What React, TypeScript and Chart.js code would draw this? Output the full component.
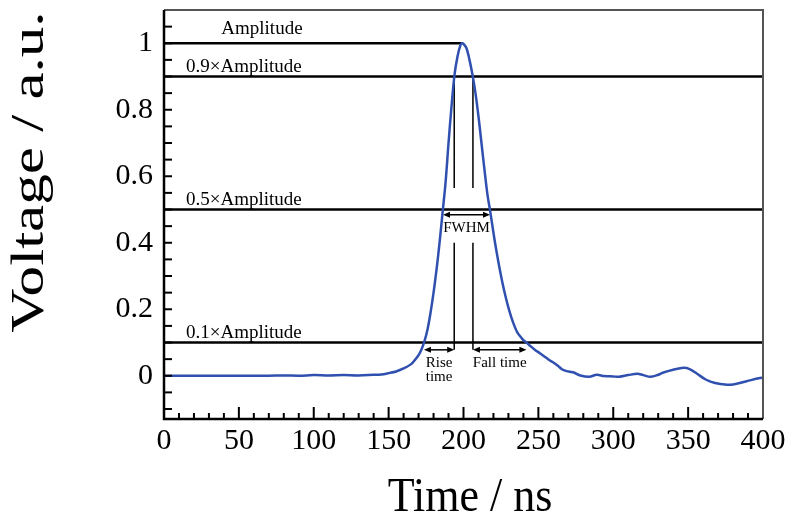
import React, { useEffect, useRef } from "react";
import { Chart, registerables } from "chart.js";

Chart.register(...registerables);

// ---- data ----
const TIME = [
  0, 10, 20, 30, 40, 50, 60, 70, 80, 90, 100, 110, 120, 130, 140, 145, 150, 155, 160, 165,
  168, 170, 172, 174, 176, 178, 180, 182, 184, 186, 188, 190, 192, 194, 196, 198, 199, 200,
  202, 204, 206, 208, 210, 212, 214, 216, 218, 220, 222, 224, 226, 228, 230, 232, 234, 236,
  238, 240, 242, 244, 248, 251, 255, 258, 260, 263, 266, 269, 271, 274, 278, 284, 289, 294,
  300, 304, 310, 316, 320, 325, 330, 333, 340, 347, 351, 356, 362, 368, 376, 380, 385, 392,
  398, 400,
];
const VOLTAGE = [
  0, 0, 0, 0, 0, 0, 0, 0, 0.001, 0, 0.002, 0.001, 0.002, 0.001, 0.003, 0.004, 0.008, 0.013,
  0.022, 0.035, 0.05, 0.062, 0.08, 0.105, 0.14, 0.19, 0.25, 0.32, 0.4, 0.49, 0.58, 0.7, 0.81,
  0.905, 0.96, 0.995, 1.0, 0.998, 0.985, 0.95, 0.905, 0.85, 0.78, 0.7, 0.62, 0.545, 0.49,
  0.43, 0.375, 0.325, 0.28, 0.24, 0.205, 0.175, 0.15, 0.13, 0.118, 0.107, 0.1, 0.092, 0.077,
  0.068, 0.055, 0.045, 0.04, 0.03, 0.019, 0.014, 0.012, 0.009, 0.001, -0.003, 0.003, -0.001,
  -0.002, -0.003, 0.002, 0.006, 0.002, -0.003, 0.003, 0.009, 0.018, 0.024, 0.02, 0.006,
  -0.012, -0.022, -0.027, -0.026, -0.021, -0.013, -0.007, -0.006,
];
const X_TICKS = [0, 50, 100, 150, 200, 250, 300, 350, 400];
const Y_TICKS = [0, 0.2, 0.4, 0.6, 0.8, 1];

// annotation levels and crossing times
const LEVELS = [1, 0.9, 0.5, 0.1];
const LEVEL_LABELS = ["Amplitude", "0.9×Amplitude", "0.5×Amplitude", "0.1×Amplitude"];
const T_PEAK = 199;
const T_RISE = [173.6, 186.3, 193.8]; // 10%, 50%, 90%
const T_FALL = [206.3, 217.7, 242.0]; // 90%, 50%, 10%
const FWHM_Y = 0.484;
const TIME_ARROW_Y = 0.078;
const VLINE_GAP = [0.4, 0.565];

const SERIF = "'Liberation Serif', 'Times New Roman', serif";

const annotations = {
  id: "annotations",
  beforeDatasetsDraw(chart: any) {
    const { ctx, chartArea } = chart;
    const xs = chart.scales.x;
    const ys = chart.scales.y;
    const X = (v: number) => xs.getPixelForValue(v);
    const Y = (v: number) => ys.getPixelForValue(v);
    ctx.save();
    ctx.strokeStyle = "#000";
    ctx.fillStyle = "#000";
    // horizontal level lines
    ctx.lineWidth = 2.5;
    LEVELS.forEach((lv) => {
      ctx.beginPath();
      ctx.moveTo(chartArea.left, Y(lv));
      ctx.lineTo(lv === 1 ? X(T_PEAK) : chartArea.right, Y(lv));
      ctx.stroke();
    });
    // vertical lines at 90% crossings
    ctx.lineWidth = 1.5;
    [T_RISE[2], T_FALL[0]].forEach((t) => {
      ctx.beginPath();
      ctx.moveTo(X(t), Y(0.9));
      ctx.lineTo(X(t), Y(VLINE_GAP[1]));
      ctx.moveTo(X(t), Y(VLINE_GAP[0]));
      ctx.lineTo(X(t), Y(TIME_ARROW_Y));
      ctx.stroke();
    });
    const arrow = (x1: number, x2: number, y: number) => {
      ctx.lineWidth = 1.5;
      ctx.beginPath();
      ctx.moveTo(x1 + 3, y);
      ctx.lineTo(x2 - 3, y);
      ctx.stroke();
      [
        [x1, 1],
        [x2, -1],
      ].forEach(([x, d]) => {
        ctx.beginPath();
        ctx.moveTo(x, y);
        ctx.lineTo(x + d * 7, y - 3);
        ctx.lineTo(x + d * 7, y + 3);
        ctx.closePath();
        ctx.fill();
      });
    };
    arrow(X(T_RISE[1]), X(T_FALL[1]), Y(FWHM_Y));
    arrow(X(T_RISE[0]), X(T_RISE[2]), Y(TIME_ARROW_Y));
    arrow(X(T_FALL[0]), X(T_FALL[2]), Y(TIME_ARROW_Y));

    // level labels
    ctx.font = `19px ${SERIF}`;
    ctx.textBaseline = "alphabetic";
    ctx.textAlign = "center";
    ctx.fillText(LEVEL_LABELS[0], X(65.4), Y(1) - 9);
    ctx.textAlign = "left";
    for (let i = 1; i < LEVELS.length; i++) {
      ctx.fillText(LEVEL_LABELS[i], X(14.7), Y(LEVELS[i]) - 5);
    }
    ctx.font = `15px ${SERIF}`;
    ctx.textAlign = "center";
    ctx.fillText("FWHM", X((T_RISE[1] + T_FALL[1]) / 2), Y(FWHM_Y) + 17);
    const ry = Y(TIME_ARROW_Y);
    ctx.fillText("Rise", X((T_RISE[0] + T_RISE[2]) / 2), ry + 17);
    ctx.fillText("time", X((T_RISE[0] + T_RISE[2]) / 2), ry + 31);
    ctx.fillText("Fall time", X((T_FALL[0] + T_FALL[2]) / 2), ry + 17);
    ctx.restore();
  },
  afterDraw(chart: any) {
    const { ctx, chartArea } = chart;
    const xs = chart.scales.x;
    const ys = chart.scales.y;
    const { left, right, top, bottom } = chartArea;
    ctx.save();
    // frame
    ctx.lineWidth = 2;
    ctx.strokeStyle = "#555";
    ctx.beginPath();
    ctx.moveTo(left, top);
    ctx.lineTo(right, top);
    ctx.lineTo(right, bottom);
    ctx.stroke();
    ctx.strokeStyle = "#000";
    ctx.lineWidth = 2.5;
    ctx.beginPath();
    ctx.moveTo(left, top);
    ctx.lineTo(left, bottom);
    ctx.lineTo(right, bottom);
    ctx.stroke();
    // inner ticks
    ctx.lineWidth = 2;
    for (let i = -2; i <= 21; i++) {
      const v = i * 0.05;
      const y = ys.getPixelForValue(v);
      ctx.beginPath();
      ctx.moveTo(left, y);
      ctx.lineTo(left + 8, y);
      ctx.stroke();
    }
    for (let i = 1; i < 40; i++) {
      const v = i * 10;
      const x = xs.getPixelForValue(v);
      const len = v % 50 === 0 ? 12 : 6;
      ctx.beginPath();
      ctx.moveTo(x, bottom);
      ctx.lineTo(x, bottom - len);
      ctx.stroke();
    }
    // axis titles
    ctx.fillStyle = "#000";
    ctx.textAlign = "center";
    ctx.textBaseline = "alphabetic";
    ctx.save();
    ctx.translate(470, 511);
    ctx.scale(1, 1.1);
    ctx.font = `44px ${SERIF}`;
    ctx.fillText("Time / ns", 0, 0);
    ctx.restore();
    ctx.save();
    ctx.translate(43, 172);
    ctx.rotate(-Math.PI / 2);
    ctx.scale(1.3, 1);
    ctx.font = `47px ${SERIF}`;
    ctx.fillText("Voltage / a.u.", 0, 0);
    ctx.restore();
    ctx.restore();
  },
};

export default function App() {
  const canvasRef = useRef<HTMLCanvasElement | null>(null);
  useEffect(() => {
    if (!canvasRef.current) return;
    const chart = new Chart(canvasRef.current, {
      type: "line",
      data: {
        datasets: [
          {
            data: TIME.map((t, i) => ({ x: t, y: VOLTAGE[i] })),
            borderColor: "#3050b0",
            borderWidth: 2.5,
            pointRadius: 0,
            tension: 0.35,
            fill: false,
          },
        ],
      },
      options: {
        animation: false,
        responsive: false,
        devicePixelRatio: 1,
        layout: { padding: { top: 10, right: 25, left: 0, bottom: 0 } },
        plugins: { legend: { display: false }, tooltip: { enabled: false } },
        scales: {
          x: {
            type: "linear",
            min: 0,
            max: 400,
            grid: { display: false, drawTicks: false },
            border: { display: false },
            afterBuildTicks: (s: any) => {
              s.ticks = X_TICKS.map((v) => ({ value: v }));
            },
            afterFit: (s: any) => {
              s.height = 96;
              s.paddingLeft = 0;
              s.paddingRight = 0;
            },
            ticks: {
              padding: 4,
              maxRotation: 0,
              autoSkip: false,
              color: "#000",
              font: { family: SERIF, size: 30 },
              callback: (v: any) => String(v),
            },
          },
          y: {
            type: "linear",
            min: -0.13,
            max: 1.1,
            grid: { display: false, drawTicks: false },
            border: { display: false },
            afterBuildTicks: (s: any) => {
              s.ticks = Y_TICKS.map((v) => ({ value: v }));
            },
            afterFit: (s: any) => {
              s.width = 164;
              s.paddingTop = 0;
              s.paddingBottom = 0;
            },
            ticks: {
              padding: 11,
              autoSkip: false,
              color: "#000",
              font: { family: SERIF, size: 30 },
              callback: (v: any) => String(Math.round(v * 10) / 10),
            },
          },
        },
      },
      plugins: [annotations],
    });
    return () => chart.destroy();
  }, []);
  return (
    <div style={{ position: "absolute", left: 0, top: 0, width: 788, height: 515, background: "#fff" }}>
      <canvas ref={canvasRef} width={788} height={515} style={{ display: "block" }} />
    </div>
  );
}
